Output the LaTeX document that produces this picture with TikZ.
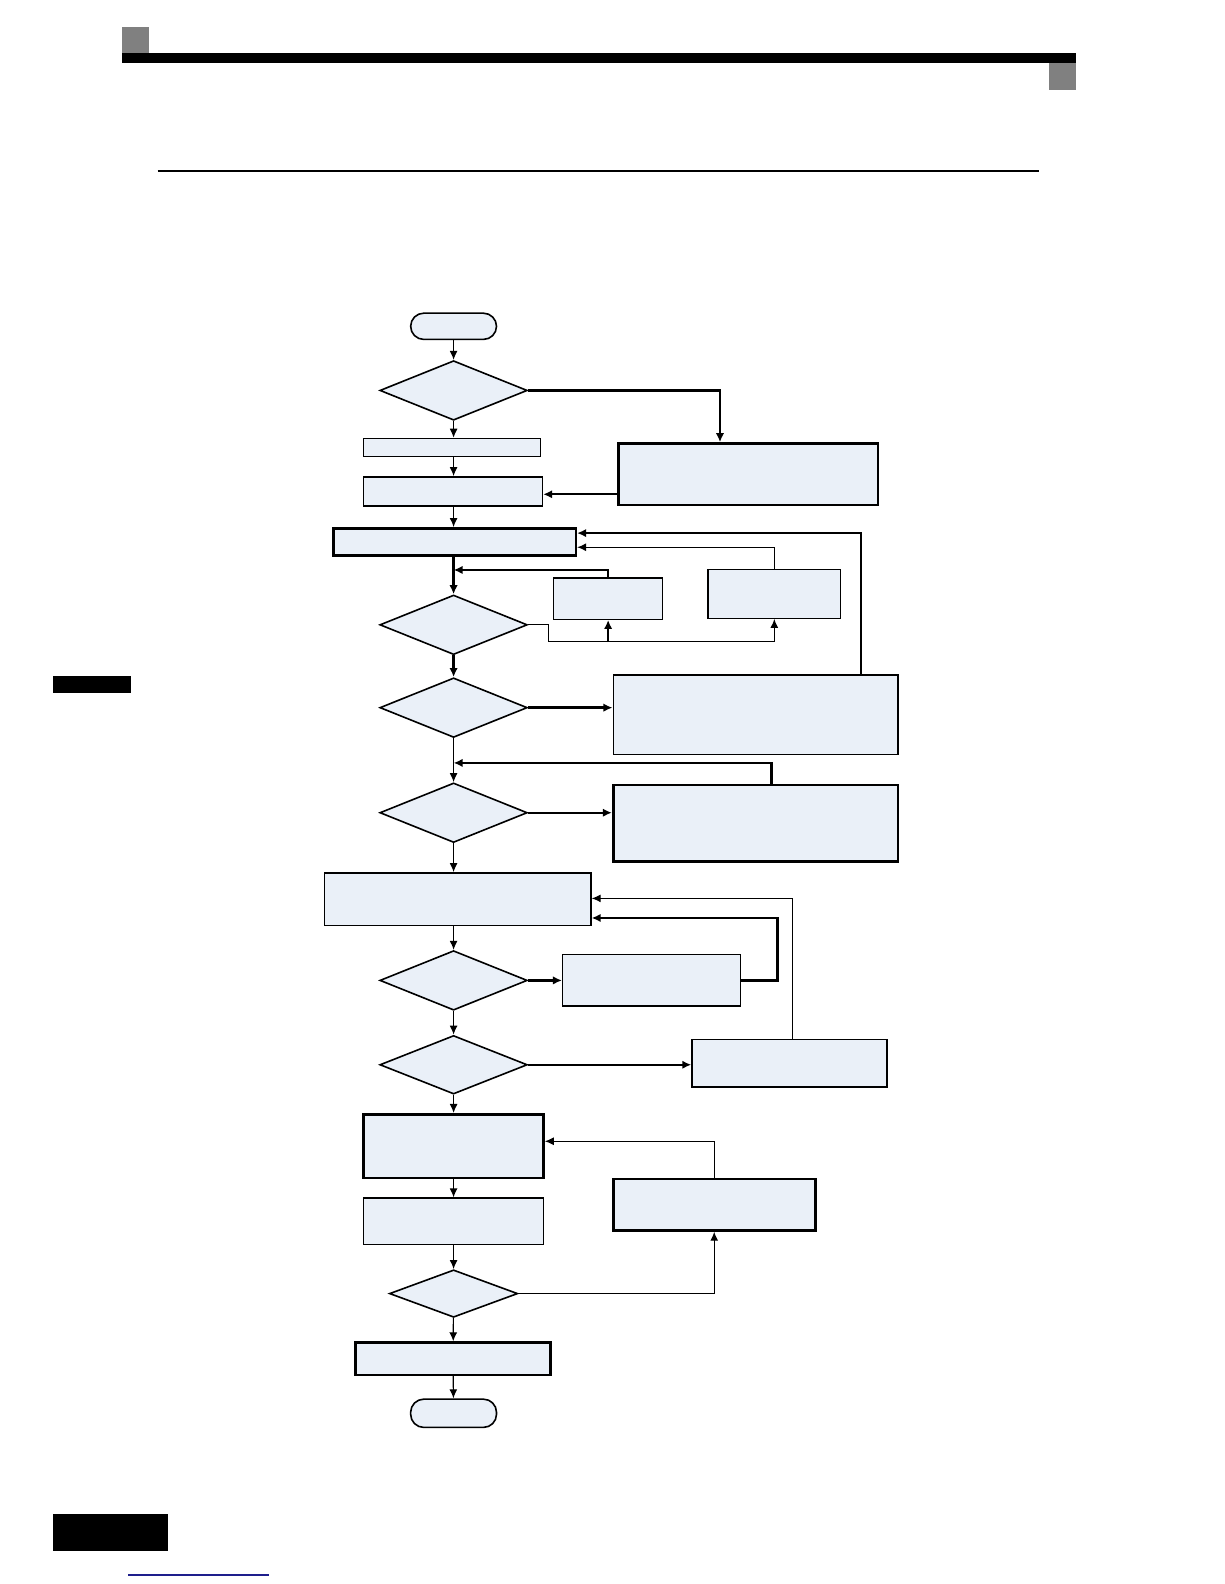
\documentclass[tikz,border=0pt]{standalone}
\usepackage{tikz}
\usetikzlibrary{shapes.geometric,arrows.meta,calc}
\newdimen\unitsize
\setlength{\unitsize}{0.505pt}
\definecolor{boxfill}{RGB}{234,240,248}
\definecolor{tabgray}{RGB}{128,128,128}
\definecolor{linkblue}{RGB}{30,30,140}

\begin{document}
\begin{tikzpicture}[x=\unitsize,y=-\unitsize]
\tikzset{box/.style={draw, fill=boxfill, line width=0.7pt, inner sep=0pt}}%
\tikzset{heavybox/.style={box, line width=1.3pt}}%
\tikzset{decision/.style={box, diamond, line width=0.8pt}}%
\tikzset{terminal/.style={box, rounded corners=13\unitsize, line width=0.8pt}}%
\tikzset{flow/.style={line width=0.6pt, -{Latex[length=4.5pt,width=4pt]}}}%
\tikzset{heavyflow/.style={line width=1.2pt, -{Latex[length=4.5pt,width=4.2pt]}}}%
\useasboundingbox (0,0) rectangle (1212,1568);
% page furniture
\fill[tabgray] (121,27) rectangle (147,52);
\fill[black] (121,52) rectangle (1065,62);
\fill[tabgray] (1038,62) rectangle (1065,89);
\draw[line width=0.8pt] (156,169) -- (1028,169);
\fill[black] (52,669) rectangle (130,686);
\fill[black] (52,1499) rectangle (166,1535);
\draw[linkblue, line width=0.6pt] (127,1559) -- (266,1559);
% main column
\node[terminal, minimum width=85*\unitsize, minimum height=26*\unitsize] (start) at (449,323) {};
\node[decision, minimum width=146*\unitsize, minimum height=59*\unitsize] (d1) at (449,386.5) {};
\node[box, minimum width=175*\unitsize, minimum height=18*\unitsize] (b1) at (447.5,443) {};
\node[box, minimum width=177*\unitsize, minimum height=29*\unitsize] (b2) at (448.5,486.5) {};
\node[heavybox, minimum width=240*\unitsize, minimum height=27*\unitsize] (b3) at (450,536.5) {};
\node[decision, minimum width=146*\unitsize, minimum height=59*\unitsize] (d2) at (449,618.5) {};
\node[decision, minimum width=146*\unitsize, minimum height=59*\unitsize] (d3) at (449,700.5) {};
\node[decision, minimum width=146*\unitsize, minimum height=59*\unitsize] (d4) at (449,804.5) {};
\node[box, minimum width=264*\unitsize, minimum height=52*\unitsize] (b4) at (453,890) {};
\node[decision, minimum width=146*\unitsize, minimum height=59*\unitsize] (d5) at (449,970.5) {};
\node[decision, minimum width=146*\unitsize, minimum height=58*\unitsize] (d6) at (449,1054) {};
\node[heavybox, minimum width=178*\unitsize, minimum height=63*\unitsize] (b5) at (449,1134.5) {};
\node[box, minimum width=178*\unitsize, minimum height=46*\unitsize] (b6) at (449,1209) {};
\node[decision, minimum width=127*\unitsize, minimum height=47*\unitsize] (d7) at (449,1280.5) {};
\node[heavybox, minimum width=193*\unitsize, minimum height=32*\unitsize] (b7) at (448.5,1345) {};
\node[terminal, minimum width=85*\unitsize, minimum height=28*\unitsize] (end) at (449,1399) {};
% side boxes
\node[heavybox, minimum width=257*\unitsize, minimum height=61*\unitsize] (r1) at (740.5,469.5) {};
\node[box, minimum width=108*\unitsize, minimum height=41*\unitsize] (s1) at (602,592.5) {};
\node[box, minimum width=131*\unitsize, minimum height=48*\unitsize] (s2) at (766.5,588) {};
\node[box, minimum width=282*\unitsize, minimum height=79*\unitsize] (r3) at (748,707.5) {};
\node[heavybox, minimum width=282*\unitsize, minimum height=76*\unitsize] (r4) at (748,815) {};
\node[box, minimum width=176*\unitsize, minimum height=51*\unitsize] (s3) at (645,970.5) {};
\node[box, minimum width=193*\unitsize, minimum height=47*\unitsize] (s4) at (781.5,1052.5) {};
\node[heavybox, minimum width=200*\unitsize, minimum height=51*\unitsize] (s5) at (707,1192.5) {};
% downward flow
\draw[flow] (start) -- (d1);
\draw[flow] (d1.south) -- (d1.south |- b1.north);
\draw[flow] (b1.south -| d1.south) -- (d1.south |- b2.north);
\draw[flow] (b2.south -| d1.south) -- (d1.south |- b3.north);
\draw[heavyflow] (b3.south -| d2.north) -- (d2.north);
\draw[heavyflow] (d2) -- (d3);
\draw[flow] (d3) -- (d4);
\draw[flow] (d4.south) -- (d4.south |- b4.north);
\draw[flow] (b4.south -| d5.north) -- (d5.north);
\draw[flow] (d5) -- (d6);
\draw[flow] (d6) -- (b5);
\draw[flow] (b5) -- (b6);
\draw[flow] (b6) -- (d7);
\draw[flow] (d7) -- (b7);
\draw[flow] (b7) -- (end);
% branches and returns
\draw[heavyflow] (d1.east) -| ($(r1.north west)+(102,0)$);
\draw[heavyflow] ($(r1.south west)+(0,-12)$) coordinate (r1out) -- (r1out -| b2.east);
\draw[heavyflow] (s1.north) |- ($(d2.north)+(0,-24)$);
\draw[flow] (s2.north) |- ($(b3.north east)+(0,20)$);
\draw[heavyflow] ($(r3.north west)+(246,0)$) |- ($(b3.north east)+(0,6)$);
\draw[flow] (d2.east) -- ++(20,0) -- ++(0,16.5) -| (s2.south);
\draw[heavyflow] ($(s1.south)+(0,22)$) -- (s1.south);
\draw[heavyflow] (d3.east) -- (d3.east -| r3.west);
\draw[heavyflow] ($(r4.north west)+(158,0)$) |- ($(d4.north)+(0,-19)$);
\draw[heavyflow] (d4.east) -- (d4.east -| r4.west);
\draw[heavyflow] (d5.east) -- (d5.east -| s3.west);
\draw[heavyflow] (s3.east) -- ++(36,0) |- ($(b4.south east)+(0,-8)$);
\draw[heavyflow] (d6.east) -- (d6.east -| s4.west);
\draw[flow] ($(s4.north west)+(100,0)$) |- ($(b4.north east)+(0,26)$);
\draw[flow] (s5.north) |- ($(b5.north east)+(0,28)$);
\draw[flow] (d7.east) -| (s5.south);
\end{tikzpicture}
\end{document}
